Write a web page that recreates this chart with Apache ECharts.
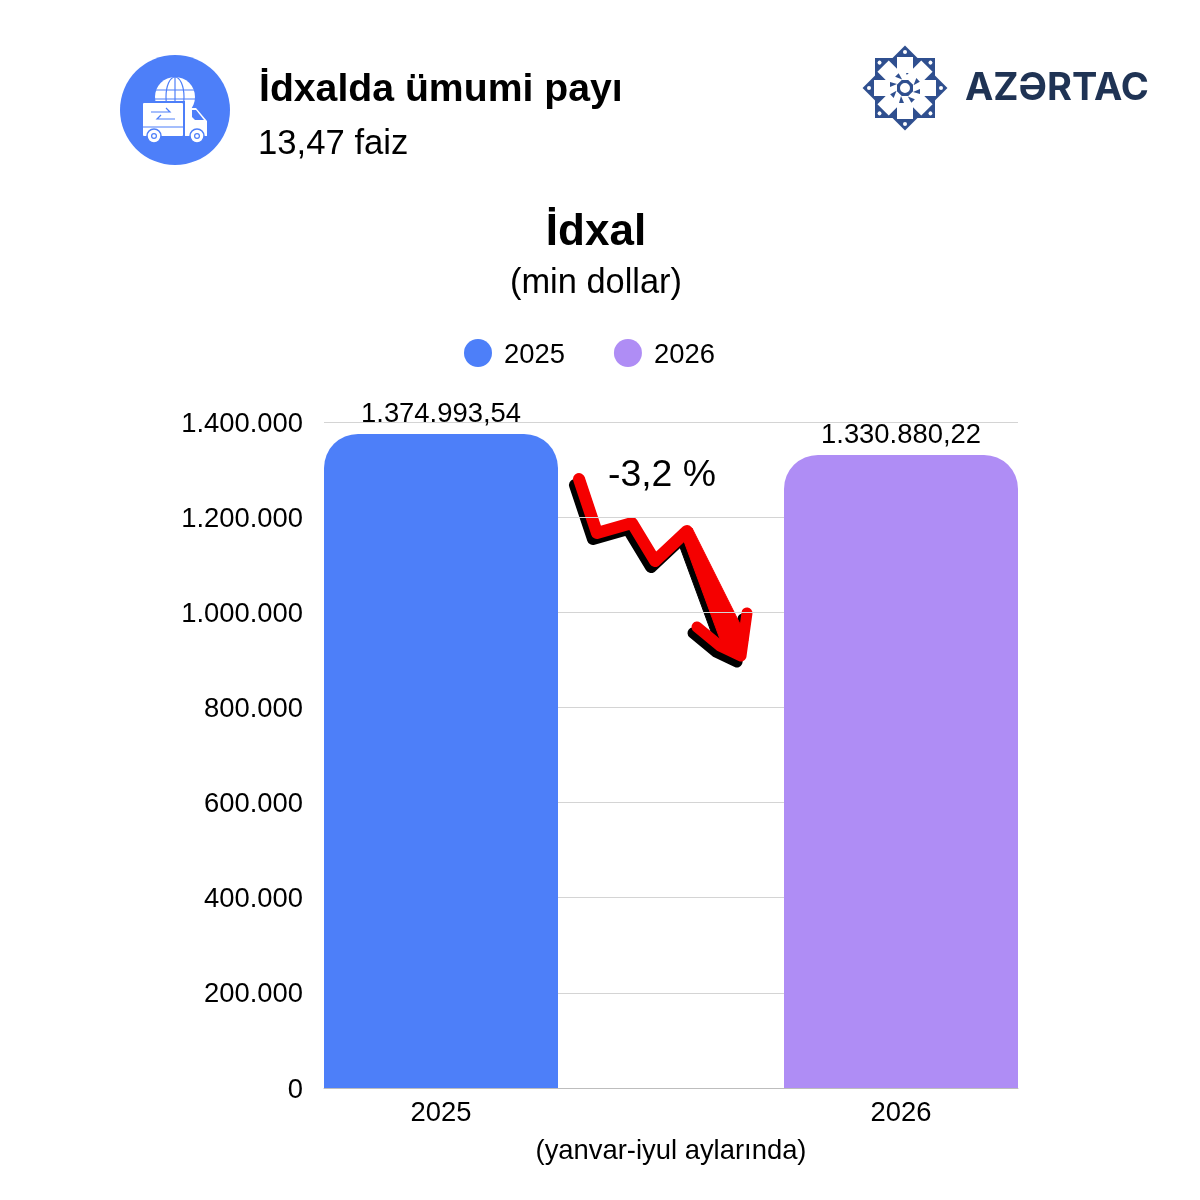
<!DOCTYPE html>
<html><head><meta charset="utf-8">
<style>html,body{margin:0;padding:0;background:#fff}#c{width:1200px;height:1200px}</style>
<script src="https://cdn.jsdelivr.net/npm/echarts@6/dist/echarts.min.js"></script>
</head><body><div id="c"></div>
<script>
const categories = ['2025', '2026'];
const values2025 = [1374993.54, null];
const values2026 = [null, 1330880.22];
const yTicks = { min: 0, max: 1400000, interval: 200000 };
const texts = {
  head: 'İdxalda ümumi payı', sub: '13,47 faiz', title: 'İdxal', unit: '(min dollar)',
  change: '-3,2 %', period: '(yanvar-iyul aylarında)', brand: 'AZƏRTAC'
};
const FONT = '"Liberation Sans", Arial, sans-serif';
const BLUE = '#4d7ff9', PURPLE = '#af8df5', LOGO = '#2f4f8f';

const dot = v => String(v).replace(/\B(?=(\d{3})+(?!\d))/g, '.');
const money = v => { const [a, b] = v.toFixed(2).split('.'); return dot(a) + ',' + b; };

function txt(x, y, text, size, weight, align, fill, family) {
  return { type: 'text', x, y, silent: true, style: { text, font: `${weight} ${size}px ${family || FONT}`, fill: fill || '#000', align, verticalAlign: 'middle' } };
}
function arrow(dx, dy, color) {
  const p = pts => pts.map(q => [q[0] + dx, q[1] + dy]);
  const round = { lineCap: 'round', lineJoin: 'round', fill: 'none', stroke: color };
  return [
    { type: 'polyline', silent: true, shape: { points: p([[579, 479], [597, 533], [632, 523], [655, 561], [687, 531]]) }, style: { ...round, lineWidth: 12 } },
    { type: 'polygon', silent: true, shape: { points: p([[681, 533], [692, 528], [748, 640], [742, 658], [724, 650]]) }, style: { fill: color, stroke: color, lineWidth: 1, lineJoin: 'round' } },
    { type: 'polyline', silent: true, shape: { points: p([[697, 627], [720, 646], [741, 656], [747, 613]]) }, style: { ...round, lineWidth: 11 } }
  ];
}
function logo() {
  const cx = 905, cy = 88, kids = [];
  kids.push({ type: 'rect', x: cx, y: cy, silent: true, shape: { x: -30, y: -30, width: 60, height: 60 }, style: { fill: LOGO } });
  kids.push({ type: 'rect', x: cx, y: cy, rotation: Math.PI / 4, silent: true, shape: { x: -30, y: -30, width: 60, height: 60 }, style: { fill: LOGO } });
  for (let i = 0; i < 8; i++) {
    const a = i * Math.PI / 4;
    kids.push({ type: 'group', x: cx, y: cy, rotation: a, silent: true, children: [
      { type: 'rect', shape: { x: -8, y: -31, width: 16, height: 23 }, style: { fill: '#fff' } },
      { type: 'polygon', shape: { points: [[1, -15], [6, -15], [4, -8]] }, style: { fill: LOGO } },
      { type: 'circle', shape: { cx: 0, cy: -36, r: 2 }, style: { fill: '#fff' } }
    ] });
  }
  kids.push({ type: 'circle', x: cx, y: cy, silent: true, shape: { r: 6 }, style: { fill: '#fff', stroke: LOGO, lineWidth: 2 } });
  return kids;
}
function icon() {
  const w = '#fff';
  const kids = [
    { type: 'circle', shape: { cx: 175, cy: 110, r: 55 }, style: { fill: BLUE } },
    { type: 'circle', shape: { cx: 175, cy: 97, r: 20 }, style: { fill: w } },
    { type: 'ellipse', shape: { cx: 175, cy: 97, rx: 9, ry: 20 }, style: { fill: 'none', stroke: BLUE, lineWidth: 1.2 } },
    { type: 'line', shape: { x1: 175, y1: 77, x2: 175, y2: 104 }, style: { stroke: BLUE, lineWidth: 1.2 } },
    { type: 'line', shape: { x1: 156, y1: 90, x2: 194, y2: 90 }, style: { stroke: BLUE, lineWidth: 1.2 } },
    { type: 'line', shape: { x1: 155, y1: 99, x2: 195, y2: 99 }, style: { stroke: BLUE, lineWidth: 1.2 } },
    { type: 'rect', shape: { x: 141, y: 101, width: 44, height: 36 }, style: { fill: BLUE } },
    { type: 'rect', shape: { x: 143, y: 103, width: 40, height: 33, r: 1 }, style: { fill: w } },
    { type: 'line', shape: { x1: 143, y1: 127, x2: 183, y2: 127 }, style: { stroke: BLUE, lineWidth: 1.2 } },
    { type: 'polygon', shape: { points: [[185, 108], [196, 108], [207, 121], [207, 136], [185, 136]] }, style: { fill: w } },
    { type: 'polygon', shape: { points: [[192, 110], [196, 110], [204, 120], [195, 120], [192, 117]] }, style: { fill: BLUE } },
    { type: 'polyline', shape: { points: [[151, 112], [170, 112], [166, 108]] }, style: { fill: 'none', stroke: BLUE, lineWidth: 1.2 } },
    { type: 'polyline', shape: { points: [[175, 119], [157, 119], [161, 115]] }, style: { fill: 'none', stroke: BLUE, lineWidth: 1.2 } }
  ];
  [154, 197].forEach(x => {
    kids.push({ type: 'circle', shape: { cx: x, cy: 136, r: 7 }, style: { fill: w, stroke: BLUE, lineWidth: 1.5 } });
    kids.push({ type: 'circle', shape: { cx: x, cy: 136, r: 3 }, style: { fill: BLUE } });
    kids.push({ type: 'circle', shape: { cx: x, cy: 136, r: 1.8 }, style: { fill: w } });
  });
  return kids.map(k => ({ ...k, silent: true }));
}

const barLabel = { show: true, position: 'top', distance: 6, color: '#000', fontFamily: FONT, fontSize: 27.4, formatter: p => money(p.value) };
const radius = [34, 34, 0, 0];
const shifted = pad => ({ a: { fontFamily: FONT, fontSize: 27.4, color: '#000', padding: [pad, 0, 0, 0] } });

const chart = echarts.init(document.getElementById('c'), null, { renderer: 'canvas' });
chart.setOption({
  animation: false,
  backgroundColor: '#fff',
  textStyle: { fontFamily: FONT },
  legend: {
    left: 459, top: 334, itemWidth: 28, itemHeight: 28, itemGap: 49, icon: 'circle',
    data: ['2025', '2026'],
    formatter: name => `{a|${name}}`,
    textStyle: { fontFamily: FONT, fontSize: 27.4, color: '#000', padding: [0, 0, 0, 7], rich: shifted(5) }
  },
  grid: [
    { left: 324, right: 182, top: 422, bottom: 112 },
    { left: 211, right: 69, top: 422, bottom: 112 }
  ],
  xAxis: [
    { gridIndex: 0, type: 'category', data: categories, axisTick: { show: false }, axisLabel: { show: false }, axisLine: { lineStyle: { color: '#bdbdbd', width: 1 } } },
    { gridIndex: 1, type: 'category', data: categories, axisTick: { show: false }, axisLine: { show: false },
      axisLabel: { color: '#000', fontFamily: FONT, fontSize: 27.4, margin: 12 } }
  ],
  yAxis: [
    { gridIndex: 0, type: 'value', ...yTicks, axisLine: { show: false }, axisTick: { show: false },
      axisLabel: { color: '#000', fontFamily: FONT, fontSize: 27.4, margin: 21, formatter: v => `{a|${dot(v)}}`, rich: shifted(4) },
      splitLine: { lineStyle: { color: '#d4d4d4', width: 1 } } },
    { gridIndex: 1, type: 'value', ...yTicks, show: false, splitLine: { show: false } }
  ],
  series: [
    { name: '2025', type: 'bar', xAxisIndex: 1, yAxisIndex: 1, data: values2025, barWidth: 234, barGap: '-100%', itemStyle: { color: BLUE, borderRadius: radius }, label: barLabel },
    { name: '2026', type: 'bar', xAxisIndex: 1, yAxisIndex: 1, data: values2026, barWidth: 234, barGap: '-100%', itemStyle: { color: PURPLE, borderRadius: radius }, label: barLabel }
  ],
  graphic: [
    ...icon(),
    ...logo(),
    txt(259, 90, texts.head, 39.2, 'bold', 'left'),
    txt(258, 144, texts.sub, 34.7, 'normal', 'left'),
    txt(596, 233, texts.title, 44, 'bold', 'center'),
    txt(596, 284, texts.unit, 34.4, 'normal', 'center'),
    txt(662, 476, texts.change, 37.4, 'normal', 'center'),
    txt(671, 1151, texts.period, 27.4, 'normal', 'center'),
    txt(965, 89, texts.brand, 38, 'bold', 'left', '#1f3354', 'Inter, sans-serif'),
    ...arrow(-4, 6, '#000'),
    ...arrow(0, 0, '#f50000')
  ]
});
</script></body></html>
